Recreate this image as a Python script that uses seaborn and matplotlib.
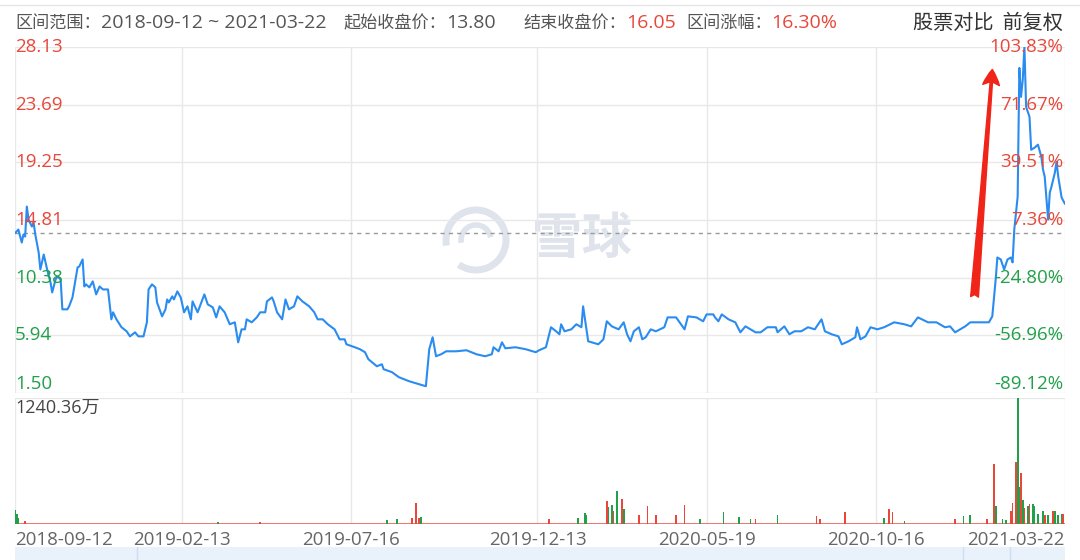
import pandas as pd
import seaborn as sns
import matplotlib.pyplot as plt
from matplotlib.patches import Rectangle, Arc

# price series (trading-day index, close)
days = [0, 2, 4, 5, 6, 7, 8, 10, 11, 12, 14, 15, 17, 19, 21, 22, 24, 25, 27, 28,
        31, 32, 34, 37, 38, 40, 41, 42, 44, 46, 48, 50, 52, 55, 57, 58, 60, 63, 66, 68,
        71, 73, 76, 78, 79, 81, 83, 84, 87, 89, 90, 91, 93, 94, 96, 98, 100, 102, 104, 105,
        108, 112, 114, 117, 119, 121, 124, 127, 130, 132, 134, 136, 137, 140, 143, 145, 148, 149, 152, 153,
        155, 158, 160, 162, 165, 167, 170, 174, 177, 179, 182, 185, 189, 192, 195, 196, 201, 204, 207, 209,
        214, 217, 218, 223, 227, 233, 239, 243, 245, 247, 249, 252, 255, 261, 267, 273, 278, 282, 283, 286,
        288, 290, 296, 302, 308, 310, 314, 317, 320, 322, 323, 325, 329, 332, 335, 336, 339, 345, 348, 350,
        353, 357, 360, 362, 364, 366, 369, 371, 373, 376, 379, 384, 386, 391, 396, 398, 403, 407, 409, 413,
        414, 416, 418, 422, 426, 429, 432, 435, 438, 441, 445, 450, 451, 455, 458, 461, 465, 469, 473, 477,
        479, 483, 487, 489, 493, 497, 498, 500, 503, 506, 510, 514, 520, 526, 530, 534, 540, 545, 550, 553,
        556, 562, 565, 571, 576, 578, 580, 581, 583, 585, 587, 589, 590, 591, 593, 594, 595, 596, 597, 598,
        600, 601, 603, 605, 607, 608, 609, 611, 612, 613, 615, 616, 617, 619, 621]
prices = [13.80, 14.08, 13.08, 13.70, 13.54, 15.85, 14.85, 14.31, 14.62, 13.70, 12.31, 11.01, 12.16, 11.01, 10.01, 9.24, 10.24, 10.47, 10.24, 7.94,
          7.94, 8.17, 8.86, 11.16, 11.24, 11.78, 9.70, 9.86, 9.63, 10.09, 9.09, 9.70, 9.47, 9.47, 7.17, 7.71, 7.17, 6.56, 6.25, 5.86,
          6.17, 5.86, 5.86, 6.94, 9.47, 9.86, 9.63, 8.47, 7.40, 7.94, 8.70, 8.47, 8.94, 8.70, 9.32, 8.86, 7.71, 8.17, 7.17, 8.55,
          7.71, 9.09, 8.32, 8.09, 7.32, 8.17, 7.71, 6.79, 6.94, 5.40, 6.40, 6.40, 7.17, 6.94, 7.32, 7.71, 7.71, 8.55, 8.86, 8.55,
          7.71, 7.17, 8.70, 7.94, 8.17, 8.94, 8.55, 8.17, 7.71, 7.17, 7.17, 6.79, 6.40, 5.63, 5.63, 5.25, 5.02, 4.87, 4.64, 4.10,
          3.56, 3.71, 3.33, 3.10, 2.72, 2.41, 2.18, 2.02, 4.87, 5.79, 4.33, 4.48, 4.71, 4.71, 4.79, 4.48, 4.33, 4.48, 5.02, 4.71,
          5.40, 4.94, 5.02, 4.87, 4.64, 4.79, 5.02, 6.56, 6.25, 6.02, 6.79, 6.25, 6.40, 6.79, 6.56, 8.17, 5.48, 5.25, 5.63, 7.02,
          6.63, 6.40, 6.94, 6.02, 5.48, 6.25, 6.56, 5.63, 5.79, 6.40, 6.25, 6.56, 7.32, 7.32, 6.40, 7.40, 7.32, 7.02, 7.55, 7.55,
          7.32, 7.02, 7.55, 7.17, 6.94, 6.17, 6.63, 6.40, 6.17, 6.17, 6.56, 6.56, 6.17, 6.63, 6.02, 6.25, 6.25, 6.56, 6.40, 7.17,
          6.25, 6.02, 5.86, 5.25, 5.48, 5.79, 6.56, 5.63, 5.86, 6.56, 6.40, 6.56, 6.94, 6.79, 6.63, 7.32, 6.94, 6.94, 6.56, 6.63,
          6.17, 6.63, 6.94, 6.94, 6.94, 7.40, 10.24, 11.93, 11.78, 11.01, 11.78, 11.93, 11.55, 14.08, 16.61, 26.52, 24.29, 25.60, 28.13, 23.52,
          22.76, 20.22, 20.38, 20.61, 19.68, 18.69, 18.15, 14.85, 16.92, 17.38, 18.46, 19.30, 18.15, 16.54, 16.05]

# volume spikes (万 shares), up = red, down = green
vol_days = [0, 1, 2, 6, 120, 145, 220, 226, 235, 237, 239, 240, 316, 333, 337, 338, 350, 351, 353, 354,
            356, 359, 360, 369, 374, 379, 391, 396, 405, 419, 428, 435, 438, 451, 474, 476, 491, 514, 517, 519,
            526, 556, 561, 565, 575, 579, 580, 584, 586, 589, 590, 592, 593, 594, 595, 596, 597, 599, 600, 602,
            603, 605, 608, 609, 611, 614, 615, 617, 619, 620]
vol_vals = [138, 100, 60, 30, 15, 20, 40, 50, 59, 207, 59, 69, 50, 60, 108, 90, 222, 163, 190, 128,
            320, 242, 148, 93, 177, 89, 89, 187, 50, 118, 69, 50, 50, 93, 74, 50, 118, 59, 148, 120,
            30, 50, 74, 89, 50, 590, 177, 50, 40, 128, 210, 610, 1240.36, 364, 502, 236, 160, 177, 197, 197,
            177, 99, 128, 93, 89, 128, 128, 89, 100, 95]
vol_dir = ['down', 'down', 'down', 'up', 'down', 'up', 'down', 'down', 'up', 'up', 'up', 'down', 'up', 'down', 'down', 'down', 'up', 'down', 'down', 'up',
           'down', 'up', 'down', 'up', 'up', 'up', 'up', 'up', 'down', 'down', 'down', 'down', 'up', 'down', 'up', 'up', 'up', 'down', 'up', 'up',
           'down', 'up', 'down', 'down', 'up', 'up', 'down', 'down', 'down', 'up', 'up', 'up', 'down', 'down', 'up', 'down', 'up', 'down', 'up', 'down',
           'down', 'down', 'down', 'up', 'down', 'up', 'down', 'down', 'down', 'up']

price_levels = [28.13, 23.69, 19.25, 14.81, 10.38, 5.94, 1.50]
left_labels = ['28.13', '23.69', '19.25', '14.81', '10.38', '5.94', '1.50']
right_labels = ['103.83%', '71.67%', '39.51%', '7.36%', '-24.80%', '-56.96%', '-89.12%']
start_close = 13.80
vol_max = 1240.36
tick_days = [0, 99, 199, 309, 409, 509, 621]
tick_dates = ['2018-09-12', '2019-02-13', '2019-07-16', '2019-12-13', '2020-05-19', '2020-10-16', '2021-03-22']

RED = '#e8473a'
GREEN = '#21a04a'
BLUE = '#2a8cf0'
GRID = '#e8e8e8'
TXT = '#555555'
NUM = ['Open Sans', 'Noto Sans CJK SC']
CJK = ['Noto Sans CJK SC', 'DejaVu Sans']

sns.set_theme(style='white')
plt.rcParams['font.family'] = CJK

W, H = 1080, 560
fig = plt.figure(figsize=(W / 100, H / 100), dpi=100)


def fx(px):
    return px / W


def fy(py):
    return 1 - py / H


ax_p = fig.add_axes([fx(15), fy(393), fx(1050), (393 - 47) / H])
ax_v = fig.add_axes([fx(15), fy(524), fx(1050), (524 - 398) / H])
for ax in (ax_p, ax_v):
    ax.set_facecolor('none')
    for s in ax.spines.values():
        s.set_visible(False)
    ax.set_xlim(tick_days[0], tick_days[-1])
    for d in tick_days:
        ax.axvline(d, color=GRID, lw=1, zorder=0)

# watermark
fig.text(fx(582), fy(240), '雪球', fontsize=36, color='#dfe3ec', ha='center', va='center',
         fontweight='bold', zorder=-1)
fig.add_artist(Arc((fx(476), fy(240)), 60 / W, 60 / H, theta1=250, theta2=200,
                   transform=fig.transFigure, color='#dfe3ec', lw=5, zorder=-1))
fig.add_artist(Arc((fx(476), fy(240)), 30 / W, 30 / H, theta1=20, theta2=200,
                   transform=fig.transFigure, color='#dfe3ec', lw=4, zorder=-1))

# price panel
for lv in price_levels:
    ax_p.axhline(lv, color=GRID, lw=1, zorder=0)
ax_p.axhline(start_close, color='#9a9a9a', lw=1, ls=(0, (3, 3)), zorder=1)
sns.lineplot(x=days, y=prices, ax=ax_p, color=BLUE, lw=1.5, zorder=3)
ax_p.set_ylim(price_levels[-1], price_levels[0])
ax_p.set_xticks([])
ax_p.set_yticks([])
ax_p.set_xlabel('')
ax_p.set_ylabel('')

for lv, ll, rl in zip(price_levels, left_labels, right_labels):
    col = RED if lv > start_close else GREEN
    va = 'bottom' if lv == price_levels[-1] else 'center'
    ax_p.text(0, lv, ll, transform=ax_p.get_yaxis_transform(), ha='left', va=va,
              fontsize=13.5, family=NUM, color=col, zorder=4)
    ax_p.text(0.998, lv, rl, transform=ax_p.get_yaxis_transform(), ha='right', va=va,
              fontsize=13.5, family=NUM, color=col, zorder=4)

ax_p.annotate('', xy=(578, 26.4), xytext=(567.5, 8.9),
              arrowprops=dict(arrowstyle='fancy,head_length=0.7,head_width=0.75,tail_width=0.35',
                              color='#f02418', mutation_scale=16, shrinkA=0, shrinkB=0), zorder=5)

# volume panel
vol = pd.DataFrame({'day': vol_days, 'vol': vol_vals, 'dir': vol_dir})
ax_v.axhline(vol_max, color=GRID, lw=1, zorder=0)
ax_v.axhline(4, color=RED, lw=1.3, alpha=0.8, zorder=1)
sns.barplot(data=vol, x='day', y='vol', hue='dir', palette={'up': RED, 'down': GREEN},
            native_scale=True, dodge=False, width=1.0, errorbar=None, saturation=1,
            linewidth=0, legend=False, ax=ax_v, zorder=2)
ax_v.set_xlim(tick_days[0], tick_days[-1])
ax_v.set_ylim(0, vol_max)
ax_v.set_yticks([])
ax_v.set_xlabel('')
ax_v.set_ylabel('')
ax_v.text(0, 0.92, f'{vol_max:.2f}万', transform=ax_v.transAxes, ha='left', va='center',
          fontsize=13, family=NUM, color='#444444')
ax_v.set_xticks(tick_days)
ax_v.set_xticklabels(tick_dates, fontsize=13.5, family=NUM, color='#666666')
ax_v.tick_params(axis='x', length=0, pad=5)
labels = ax_v.get_xticklabels()
labels[0].set_ha('left')
labels[-1].set_ha('right')

# header: pieces chained left to right
renderer = fig.canvas.get_renderer()


def chain(x_px, y_px, pieces):
    x = x_px
    for s, fam, size, col in pieces:
        t = fig.text(fx(x), fy(y_px), s, fontsize=size, family=fam, color=col, va='center')
        x += t.get_window_extent(renderer).width


fig.add_artist(plt.Line2D([0, 1], [fy(5), fy(5)], color='#e6e6e6', lw=1, transform=fig.transFigure))
hy = 23
chain(15, hy, [('区间范围：', CJK, 12.3, TXT), ('2018-09-12 ~ 2021-03-22', NUM, 14, TXT)])
chain(343, hy, [('起始收盘价：', CJK, 12.3, TXT), ('13.80', NUM, 14, TXT)])
chain(523, hy, [('结束收盘价：', CJK, 12.3, TXT), ('16.05', NUM, 14, RED)])
chain(686, hy, [('区间涨幅：', CJK, 12.3, TXT), ('16.30%', NUM, 14, RED)])
fig.text(fx(1063), fy(hy), '股票对比  前复权', fontsize=14.5, color='#333333', va='center', ha='right')

# range bar at bottom
fig.add_artist(Rectangle((fx(15), 0), fx(1050), 13 / H, transform=fig.transFigure,
                         facecolor='#e9f1fb', edgecolor='none'))
for bx in [137, 963, 1010]:
    fig.add_artist(plt.Line2D([fx(bx), fx(bx)], [0, 13 / H], color='#cfdff2', lw=1,
                              transform=fig.transFigure))

fig.savefig('out.png', dpi=100)
